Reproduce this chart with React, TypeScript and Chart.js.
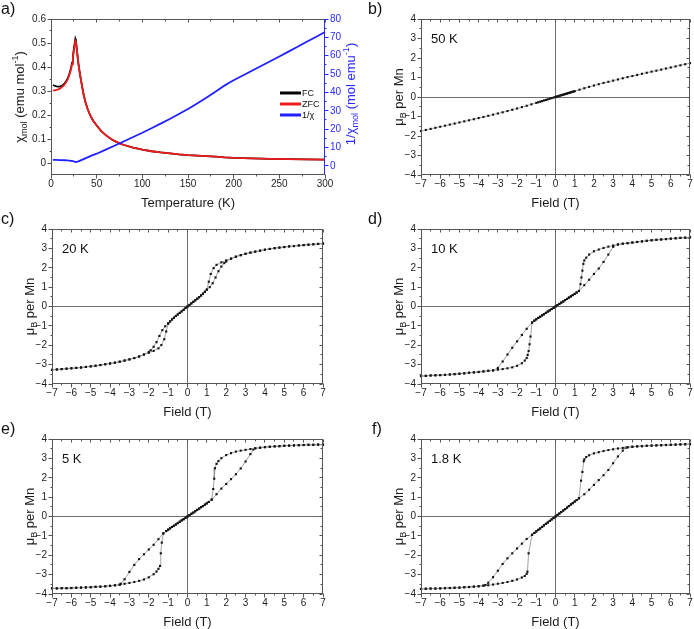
import React, { useEffect, useRef } from 'react';
import { Chart, registerables } from 'chart.js';

Chart.register(...registerables);

type Pt = [number, number];
type Seg = { t: string; s?: 'sub' | 'sup' };

const FONT = '"Liberation Sans", Arial, Helvetica, sans-serif';

// ---------- axis ticks and ranges ----------
const TEMP_TICKS = [0, 50, 100, 150, 200, 250, 300];
const CHI_TICKS = [0, 0.1, 0.2, 0.3, 0.4, 0.5, 0.6];
const INV_CHI_TICKS = [0, 10, 20, 30, 40, 50, 60, 70, 80];
const FIELD_TICKS = [-7, -6, -5, -4, -3, -2, -1, 0, 1, 2, 3, 4, 5, 6, 7];
const MOMENT_TICKS = [-4, -3, -2, -1, 0, 1, 2, 3, 4];

const TEMP_RANGE: Pt = [0, 300];
const CHI_RANGE: Pt = [-0.05, 0.6];
const INV_CHI_RANGE: Pt = [-5, 80];
const FIELD_RANGE: Pt = [-7, 7];
const MOMENT_RANGE: Pt = [-4, 4];

// ---------- a) susceptibility vs temperature (T in K, chi in emu/mol) ----------
const CHI_FC: Pt[] = [
  [2, 0.325], [4, 0.322], [6, 0.319], [8, 0.318], [10, 0.319], [12, 0.322], [14, 0.328],
  [16, 0.337], [18, 0.35], [20, 0.37], [22, 0.397], [23, 0.418], [24, 0.445], [25, 0.474],
  [26, 0.5], [26.7, 0.517], [27.3, 0.51], [28, 0.485], [29, 0.448], [30, 0.415], [31, 0.388],
  [32, 0.364], [34, 0.32], [36, 0.28], [38, 0.25], [40, 0.226], [43, 0.198], [46, 0.177],
  [50, 0.156], [55, 0.133], [60, 0.116], [65, 0.102], [70, 0.091], [75, 0.082], [80, 0.075],
  [90, 0.064], [100, 0.056], [110, 0.049], [120, 0.044], [130, 0.04], [140, 0.036],
  [150, 0.033], [160, 0.031], [170, 0.029], [180, 0.0265], [190, 0.0235], [200, 0.0215],
  [220, 0.0193], [240, 0.0176], [260, 0.0161], [280, 0.0149], [300, 0.0138],
];

const CHI_ZFC: Pt[] = [
  [2, 0.303], [4, 0.303], [6, 0.305], [8, 0.307], [10, 0.311], [12, 0.316], [14, 0.323],
  [16, 0.333], [18, 0.346], [20, 0.365], [22, 0.392], [23, 0.412], [24, 0.438], [25, 0.467],
  [26, 0.493], [26.7, 0.508], [27.3, 0.503], [28, 0.482], [29, 0.447], [30, 0.414],
  [31, 0.387], [32, 0.363], [34, 0.319], [36, 0.28], [38, 0.25], [40, 0.226], [43, 0.198],
  [46, 0.177], [50, 0.156], [55, 0.133], [60, 0.116], [65, 0.102], [70, 0.091], [75, 0.082],
  [80, 0.075], [90, 0.064], [100, 0.056], [110, 0.049], [120, 0.044], [130, 0.04],
  [140, 0.036], [150, 0.033], [160, 0.031], [170, 0.029], [180, 0.0265], [190, 0.0235],
  [200, 0.0215], [220, 0.0193], [240, 0.0176], [260, 0.0161], [280, 0.0149], [300, 0.0138],
];

const INV_CHI: Pt[] = [
  [2, 3.2], [5, 3.2], [10, 3.15], [15, 3.05], [20, 2.85], [24, 2.5], [27, 2.05], [30, 2.45],
  [35, 3.5], [40, 4.6], [45, 5.7], [50, 6.6], [60, 8.8], [70, 11.1], [80, 13.4], [90, 15.7],
  [100, 18], [110, 20.5], [120, 23], [130, 25.5], [140, 28.2], [150, 31], [160, 34],
  [170, 37.1], [180, 40.3], [190, 43.7], [195, 45.3], [200, 46.6], [210, 49.2], [220, 51.8],
  [230, 54.4], [240, 57], [250, 59.6], [260, 62.2], [270, 64.9], [280, 67.6], [290, 70.2],
  [300, 72.9],
];

// ---------- b) 50 K magnetisation (field in T, moment in muB per Mn) ----------
const M_50K: Pt[] = [
  [7, 1.735], [6.75, 1.68], [6.5, 1.625], [6.25, 1.57], [6, 1.515], [5.75, 1.46], [5.5, 1.405],
  [5.25, 1.35], [5, 1.3], [4.75, 1.245], [4.5, 1.19], [4.25, 1.13], [4, 1.075], [3.75, 1.02],
  [3.5, 0.96], [3.25, 0.9], [3, 0.84], [2.75, 0.78], [2.5, 0.72], [2.25, 0.655], [2, 0.59],
  [1.75, 0.52], [1.5, 0.45], [1.25, 0.375], [1, 0.3], [0.9, 0.27], [0.8, 0.24], [0.7, 0.21],
  [0.6, 0.18], [0.5, 0.15], [0.4, 0.12], [0.3, 0.09], [0.2, 0.06], [0.1, 0.03], [0, 0],
  [-0.1, -0.03], [-0.2, -0.06], [-0.3, -0.09], [-0.4, -0.12], [-0.5, -0.15], [-0.6, -0.18],
  [-0.7, -0.21], [-0.8, -0.24], [-0.9, -0.27], [-1, -0.3], [-1.25, -0.375], [-1.5, -0.45],
  [-1.75, -0.52], [-2, -0.59], [-2.25, -0.655], [-2.5, -0.72], [-2.75, -0.785], [-3, -0.845],
  [-3.25, -0.905], [-3.5, -0.965], [-3.75, -1.025], [-4, -1.08], [-4.25, -1.14], [-4.5, -1.195],
  [-4.75, -1.25], [-5, -1.305], [-5.25, -1.36], [-5.5, -1.415], [-5.75, -1.47], [-6, -1.525],
  [-6.25, -1.58], [-6.5, -1.635], [-6.75, -1.69], [-7, -1.75],
];
const M_50K_VIRGIN: Pt[] = [
  [0, 0], [0.05, 0.015], [0.15, 0.045], [0.25, 0.075], [0.35, 0.105], [0.45, 0.135],
  [0.55, 0.165], [0.65, 0.195], [0.75, 0.225], [0.85, 0.255], [0.95, 0.285],
];

// ---------- c) 20 K loop ----------
const M20_P_SAT: Pt[] = [
  [7, 3.25], [6.75, 3.23], [6.5, 3.21], [6.25, 3.19], [6, 3.17], [5.75, 3.15], [5.5, 3.12],
  [5.25, 3.1], [5, 3.07], [4.75, 3.04], [4.5, 3.01], [4.25, 2.97], [4, 2.93], [3.75, 2.88],
  [3.5, 2.83], [3.25, 2.78], [3, 2.72], [2.75, 2.65], [2.5, 2.57], [2.25, 2.47],
];
const M20_P_STEEP: Pt[] = [[2, 2.38], [1.75, 2.28], [1.5, 2.15], [1.35, 1.98], [1.2, 1.68], [1.1, 1.28], [1, 0.88]];
const M20_P_RAMP: Pt[] = [[1, 0.86], [1.15, 1.0], [1.3, 1.2], [1.45, 1.5], [1.6, 1.82], [1.75, 2.06], [1.9, 2.24], [2, 2.32]];
const M20_CORE: Pt[] = [
  [-0.9, -0.77], [-0.8, -0.67], [-0.7, -0.58], [-0.6, -0.49], [-0.5, -0.41], [-0.4, -0.33],
  [-0.3, -0.25], [-0.2, -0.17], [-0.1, -0.08], [0, 0], [0.1, 0.08], [0.2, 0.16], [0.3, 0.24],
  [0.4, 0.32], [0.5, 0.4], [0.6, 0.48], [0.7, 0.57], [0.8, 0.66], [0.9, 0.76],
];
const M20_N_RAMP: Pt[] = [[-1, -0.86], [-1.15, -1.02], [-1.3, -1.22], [-1.45, -1.52], [-1.6, -1.84], [-1.75, -2.08], [-1.9, -2.26], [-2, -2.34]];
const M20_N_STEEP: Pt[] = [[-2, -2.39], [-1.75, -2.29], [-1.5, -2.16], [-1.35, -1.99], [-1.2, -1.69], [-1.1, -1.29], [-1, -0.89]];
const M20_N_SAT: Pt[] = [
  [-2.25, -2.48], [-2.5, -2.58], [-2.75, -2.66], [-3, -2.73], [-3.25, -2.79], [-3.5, -2.85],
  [-3.75, -2.9], [-4, -2.94], [-4.25, -2.98], [-4.5, -3.02], [-4.75, -3.06], [-5, -3.09],
  [-5.25, -3.12], [-5.5, -3.15], [-5.75, -3.17], [-6, -3.19], [-6.25, -3.21], [-6.5, -3.23],
  [-6.75, -3.25], [-7, -3.27],
];

// ---------- d) 10 K loop ----------
const M10_P_SAT: Pt[] = [
  [7, 3.57], [6.75, 3.55], [6.5, 3.54], [6.25, 3.52], [6, 3.5], [5.75, 3.48], [5.5, 3.46],
  [5.25, 3.44], [5, 3.42], [4.75, 3.39], [4.5, 3.36], [4.25, 3.33], [4, 3.3], [3.75, 3.27],
  [3.5, 3.24], [3.25, 3.2],
];
const M10_P_STEEP: Pt[] = [
  [3, 3.15], [2.75, 3.09], [2.5, 3.02], [2.25, 2.94], [2, 2.85], [1.75, 2.68], [1.6, 2.52],
  [1.5, 2.38], [1.45, 2.2], [1.4, 1.85], [1.35, 1.5], [1.3, 1.15], [1.22, 0.8],
];
const M10_P_RAMP: Pt[] = [[1.22, 0.8], [1.5, 1.1], [1.75, 1.38], [2, 1.68], [2.25, 1.96], [2.5, 2.3], [2.75, 2.68], [3, 3.08]];
const M10_CORE: Pt[] = [
  [-1.1, -0.73], [-1, -0.66], [-0.9, -0.59], [-0.8, -0.53], [-0.7, -0.46], [-0.6, -0.4],
  [-0.5, -0.33], [-0.4, -0.26], [-0.3, -0.2], [-0.2, -0.13], [-0.1, -0.07], [0, 0], [0.1, 0.07],
  [0.2, 0.13], [0.3, 0.2], [0.4, 0.26], [0.5, 0.33], [0.6, 0.39], [0.7, 0.46], [0.8, 0.52],
  [0.9, 0.59], [1, 0.65], [1.1, 0.72],
];
const M10_N_RAMP: Pt[] = [[-1.22, -0.82], [-1.5, -1.15], [-1.75, -1.47], [-2, -1.8], [-2.25, -2.13], [-2.5, -2.48], [-2.75, -2.84], [-3, -3.17]];
const M10_N_STEEP: Pt[] = [
  [-3, -3.26], [-2.75, -3.23], [-2.5, -3.19], [-2.25, -3.14], [-2, -3.06], [-1.75, -2.93],
  [-1.6, -2.79], [-1.5, -2.66], [-1.45, -2.5], [-1.4, -2.3], [-1.35, -1.95], [-1.3, -1.55],
  [-1.22, -0.84],
];
const M10_N_SAT: Pt[] = [
  [-3.25, -3.3], [-3.5, -3.32], [-3.75, -3.35], [-4, -3.38], [-4.25, -3.4], [-4.5, -3.42],
  [-4.75, -3.45], [-5, -3.47], [-5.25, -3.49], [-5.5, -3.51], [-5.75, -3.53], [-6, -3.54],
  [-6.25, -3.55], [-6.5, -3.56], [-6.75, -3.58], [-7, -3.59],
];

// ---------- e) 5 K loop ----------
const M5_P_SAT: Pt[] = [
  [7, 3.71], [6.75, 3.71], [6.5, 3.7], [6.25, 3.7], [6, 3.69], [5.75, 3.68], [5.5, 3.67],
  [5.25, 3.66], [5, 3.65], [4.75, 3.63], [4.5, 3.62], [4.25, 3.6], [4, 3.58], [3.75, 3.55],
  [3.5, 3.52],
];
const M5_P_STEEP: Pt[] = [
  [3.25, 3.48], [3, 3.44], [2.75, 3.4], [2.5, 3.35], [2.25, 3.27], [2, 3.17], [1.75, 3.01],
  [1.6, 2.86], [1.5, 2.72], [1.42, 2.49], [1.38, 1.95], [1.33, 1.42], [1.25, 0.88],
];
const M5_P_RAMP: Pt[] = [
  [1.25, 0.86], [1.5, 1.15], [1.75, 1.44], [2, 1.68], [2.25, 1.93], [2.5, 2.18], [2.75, 2.48],
  [3, 2.84], [3.25, 3.22], [3.4, 3.46],
];
const M5_CORE: Pt[] = [
  [-1.1, -0.75], [-1, -0.68], [-0.9, -0.61], [-0.8, -0.54], [-0.7, -0.48], [-0.6, -0.41],
  [-0.5, -0.34], [-0.4, -0.27], [-0.3, -0.2], [-0.2, -0.14], [-0.1, -0.07], [0, 0], [0.1, 0.07],
  [0.2, 0.14], [0.3, 0.2], [0.4, 0.27], [0.5, 0.34], [0.6, 0.41], [0.7, 0.48], [0.8, 0.54],
  [0.9, 0.61], [1, 0.68], [1.1, 0.75],
];
const M5_N_RAMP: Pt[] = [
  [-1.25, -0.87], [-1.5, -1.17], [-1.75, -1.46], [-2, -1.7], [-2.25, -1.95], [-2.5, -2.2],
  [-2.75, -2.5], [-3, -2.86], [-3.25, -3.24], [-3.45, -3.47],
];
const M5_N_STEEP: Pt[] = [
  [-3.25, -3.47], [-3, -3.43], [-2.75, -3.38], [-2.5, -3.32], [-2.25, -3.25], [-2, -3.14],
  [-1.75, -2.98], [-1.6, -2.84], [-1.5, -2.7], [-1.42, -2.55], [-1.38, -1.9], [-1.33, -1.35],
  [-1.25, -0.88],
];
const M5_N_SAT: Pt[] = [
  [-3.5, -3.52], [-3.75, -3.55], [-4, -3.58], [-4.25, -3.6], [-4.5, -3.62], [-4.75, -3.63],
  [-5, -3.65], [-5.25, -3.66], [-5.5, -3.67], [-5.75, -3.68], [-6, -3.69], [-6.25, -3.7],
  [-6.5, -3.7], [-6.75, -3.71], [-7, -3.71],
];

// ---------- f) 1.8 K loop ----------
const M18_P_SAT: Pt[] = [
  [7, 3.73], [6.75, 3.73], [6.5, 3.72], [6.25, 3.71], [6, 3.7], [5.75, 3.69], [5.5, 3.68],
  [5.25, 3.67], [5, 3.66], [4.75, 3.65], [4.5, 3.63], [4.25, 3.62], [4, 3.6], [3.75, 3.57],
];
const M18_P_STEEP: Pt[] = [
  [3.5, 3.54], [3.25, 3.51], [3, 3.47], [2.75, 3.43], [2.5, 3.38], [2.25, 3.32], [2, 3.26],
  [1.75, 3.16], [1.6, 3.07], [1.5, 2.95], [1.47, 2.85], [1.4, 2.3], [1.33, 1.85], [1.22, 0.95],
];
const M18_P_RAMP: Pt[] = [
  [1.22, 0.93], [1.5, 1.15], [1.75, 1.38], [2, 1.63], [2.25, 1.88], [2.5, 2.13], [2.75, 2.4],
  [3, 2.75], [3.25, 3.1], [3.5, 3.4], [3.65, 3.55],
];
const M18_CORE: Pt[] = [
  [-1.1, -0.85], [-1, -0.77], [-0.9, -0.69], [-0.8, -0.62], [-0.7, -0.54], [-0.6, -0.46],
  [-0.5, -0.38], [-0.4, -0.31], [-0.3, -0.23], [-0.2, -0.15], [-0.1, -0.08], [0, 0], [0.1, 0.08],
  [0.2, 0.15], [0.3, 0.23], [0.4, 0.31], [0.5, 0.38], [0.6, 0.46], [0.7, 0.54], [0.8, 0.62],
  [0.9, 0.69], [1, 0.77], [1.1, 0.85],
];
const M18_N_RAMP: Pt[] = [
  [-1.22, -0.94], [-1.5, -1.16], [-1.75, -1.4], [-2, -1.65], [-2.25, -1.9], [-2.5, -2.16],
  [-2.75, -2.45], [-3, -2.8], [-3.25, -3.13], [-3.5, -3.42], [-3.65, -3.54],
];
const M18_N_STEEP: Pt[] = [
  [-3.5, -3.55], [-3.25, -3.51], [-3, -3.47], [-2.75, -3.43], [-2.5, -3.38], [-2.25, -3.32],
  [-2, -3.25], [-1.75, -3.15], [-1.6, -3.07], [-1.5, -2.96], [-1.46, -2.85], [-1.4, -1.9],
  [-1.22, -0.95],
];
const M18_N_SAT: Pt[] = [
  [-3.75, -3.57], [-4, -3.6], [-4.25, -3.62], [-4.5, -3.64], [-4.75, -3.65], [-5, -3.67],
  [-5.25, -3.68], [-5.5, -3.69], [-5.75, -3.7], [-6, -3.71], [-6.25, -3.72], [-6.5, -3.72],
  [-6.75, -3.73], [-7, -3.74],
];

// ---------- helpers ----------
const rev = (p: Pt[]) => [...p].reverse();
const sweepDown = (pSat: Pt[], pSteep: Pt[], core: Pt[], nRamp: Pt[], nSat: Pt[]) =>
  [...pSat, ...pSteep, ...rev(core), ...nRamp, ...nSat];
const sweepUp = (nSat: Pt[], nSteep: Pt[], core: Pt[], pRamp: Pt[], pSat: Pt[]) =>
  [...rev(nSat), ...nSteep, ...core, ...pRamp, ...rev(pSat)];

const fmtInt = (v: number) => (v < 0 ? '\u2212' + Math.abs(v) : String(v));
const fmtChi = (v: number) => (v === 0 ? '0' : v.toFixed(1));

const FRAME = '#555555';
const ZERO = '#6e6e6e';
const LABEL = '#1c1c1c';
const BLUE = '#2b2bff';

const snap = (v: number) => Math.floor(v) + 0.5;

function drawRich(ctx: CanvasRenderingContext2D, segs: Seg[], x: number, y: number, size: number, color: string, rotate: boolean) {
  ctx.save();
  ctx.translate(x, y);
  if (rotate) ctx.rotate(-Math.PI / 2);
  ctx.fillStyle = color;
  ctx.textAlign = 'left';
  ctx.textBaseline = 'alphabetic';
  let w = 0;
  for (const g of segs) {
    ctx.font = `${g.s ? size * 0.7 : size}px ${FONT}`;
    w += ctx.measureText(g.t).width;
  }
  let cx = -w / 2;
  const base = size * 0.36;
  for (const g of segs) {
    const fs = g.s ? size * 0.7 : size;
    ctx.font = `${fs}px ${FONT}`;
    const dy = g.s === 'sub' ? size * 0.28 : g.s === 'sup' ? -size * 0.4 : 0;
    ctx.fillText(g.t, cx, base + dy);
    cx += ctx.measureText(g.t).width;
  }
  ctx.restore();
}

interface Box { x: number; y: number; w: number; h: number; l: number; t: number; r: number; b: number }
interface AxisDraw { ticks: number[]; fmt: (v: number) => string; color?: string }
interface FrameSpec {
  box: Box;
  x: AxisDraw;
  y: AxisDraw;
  y2?: AxisDraw;
  zeroLines?: boolean;
  xTitle: Seg[];
  yTitle: Seg[];
  yTitleX: number;
  y2Title?: Seg[];
  y2TitleX?: number;
  tag: string;
  tagPos: Pt;
  note?: string;
  legend?: { label: string; color: string }[];
}

const mids = (ts: number[]) => ts.slice(1).map((v, i) => (v + ts[i]) / 2);

function makeFramePlugin(spec: FrameSpec) {
  const ox = spec.box.x;
  const oy = spec.box.y;
  return {
    id: 'panelFrame',
    beforeDatasetsDraw(chart: any) {
      if (!spec.zeroLines) return;
      const { ctx, chartArea: a, scales } = chart;
      const x0 = snap(scales.x.getPixelForValue(0));
      const y0 = snap(scales.y.getPixelForValue(0));
      ctx.save();
      ctx.strokeStyle = ZERO;
      ctx.lineWidth = 1;
      ctx.beginPath();
      ctx.moveTo(x0, a.top);
      ctx.lineTo(x0, a.bottom);
      ctx.moveTo(a.left, y0);
      ctx.lineTo(a.right, y0);
      ctx.stroke();
      ctx.restore();
    },
    afterDatasetsDraw(chart: any) {
      const { ctx, chartArea: a, scales } = chart;
      const sx = scales.x;
      const sy = scales.y;
      const sy2 = scales.y2;
      const L = Math.floor(a.left) + 0.5;
      const R = Math.ceil(a.right) - 0.5;
      const T = Math.floor(a.top) + 0.5;
      const B = Math.ceil(a.bottom) - 0.5;
      ctx.save();
      ctx.lineWidth = 1;
      const seg = (x1: number, y1: number, x2: number, y2: number, c: string) => {
        ctx.strokeStyle = c;
        ctx.beginPath();
        ctx.moveTo(x1, y1);
        ctx.lineTo(x2, y2);
        ctx.stroke();
      };
      const rightColor = spec.y2?.color ?? FRAME;
      seg(L - 0.5, T, R + 0.5, T, FRAME);
      seg(L - 0.5, B, R + 0.5, B, FRAME);
      seg(L, T, L, B, FRAME);
      seg(R, T, R, B, rightColor);

      for (const v of spec.x.ticks) {
        const p = snap(sx.getPixelForValue(v));
        seg(p, B, p, B + 4, FRAME);
        seg(p, T, p, T + 3, FRAME);
      }
      for (const v of mids(spec.x.ticks)) {
        const p = snap(sx.getPixelForValue(v));
        seg(p, B, p, B + 2, FRAME);
        seg(p, T, p, T + 2, FRAME);
      }
      for (const v of spec.y.ticks) {
        const p = snap(sy.getPixelForValue(v));
        seg(L, p, L - 4, p, FRAME);
        if (!spec.y2) seg(R, p, R - 3, p, FRAME);
      }
      for (const v of mids(spec.y.ticks)) {
        const p = snap(sy.getPixelForValue(v));
        seg(L, p, L - 2, p, FRAME);
        if (!spec.y2) seg(R, p, R - 2, p, FRAME);
      }
      if (spec.y2 && sy2) {
        for (const v of spec.y2.ticks) {
          const p = snap(sy2.getPixelForValue(v));
          seg(R, p, R + 4, p, rightColor);
        }
        for (const v of mids(spec.y2.ticks)) {
          const p = snap(sy2.getPixelForValue(v));
          seg(R, p, R + 2, p, rightColor);
        }
      }

      // tick labels
      ctx.font = `10px ${FONT}`;
      ctx.fillStyle = LABEL;
      ctx.textBaseline = 'middle';
      ctx.textAlign = 'center';
      for (const v of spec.x.ticks) ctx.fillText(spec.x.fmt(v), sx.getPixelForValue(v), a.bottom + 9);
      ctx.textAlign = 'right';
      for (const v of spec.y.ticks) ctx.fillText(spec.y.fmt(v), a.left - 5, sy.getPixelForValue(v));
      if (spec.y2 && sy2) {
        ctx.textAlign = 'left';
        ctx.fillStyle = rightColor;
        for (const v of spec.y2.ticks) ctx.fillText(spec.y2.fmt(v), a.right + 5, sy2.getPixelForValue(v));
      }

      // axis titles
      const midY = (a.top + a.bottom) / 2;
      drawRich(ctx, spec.xTitle, (a.left + a.right) / 2, a.bottom + 27, 13, LABEL, false);
      drawRich(ctx, spec.yTitle, spec.yTitleX - ox, midY, 13, LABEL, true);
      if (spec.y2Title && spec.y2TitleX !== undefined) {
        drawRich(ctx, spec.y2Title, spec.y2TitleX - ox, midY - 3, 13, rightColor, true);
      }

      // panel tag and temperature note
      ctx.fillStyle = '#111';
      ctx.textAlign = 'left';
      ctx.textBaseline = 'alphabetic';
      ctx.font = `16px ${FONT}`;
      ctx.fillText(spec.tag, spec.tagPos[0] - ox, spec.tagPos[1] - oy);
      if (spec.note) {
        ctx.font = `13px ${FONT}`;
        ctx.fillText(spec.note, a.left + 10, a.top + 24);
      }

      // legend
      if (spec.legend) {
        spec.legend.forEach((item, i) => {
          const ly = 93 + i * 11 - oy;
          ctx.strokeStyle = item.color;
          ctx.lineWidth = 3;
          ctx.beginPath();
          ctx.moveTo(280 - ox, ly);
          ctx.lineTo(301 - ox, ly);
          ctx.stroke();
          ctx.fillStyle = '#111';
          ctx.font = `9px ${FONT}`;
          ctx.textBaseline = 'middle';
          ctx.fillText(item.label, 302 - ox, ly + 0.5);
        });
      }
      ctx.restore();
    },
  };
}

const padding = (b: Box) => ({ left: b.l - b.x, top: b.t - b.y, right: b.x + b.w - b.r, bottom: b.y + b.h - b.b });
const xy = (p: Pt[]) => p.map(([x, y]) => ({ x, y }));

const CHI_TITLE: Seg[] = [{ t: '\u03c7' }, { t: 'mol', s: 'sub' }, { t: ' (emu mol' }, { t: '-1', s: 'sup' }, { t: ')' }];
const INV_TITLE: Seg[] = [{ t: '1/\u03c7' }, { t: 'mol', s: 'sub' }, { t: ' (mol emu' }, { t: '-1', s: 'sup' }, { t: ')' }];
const MOMENT_TITLE: Seg[] = [{ t: '\u03bc' }, { t: 'B', s: 'sub' }, { t: ' per Mn' }];
const FIELD_TITLE: Seg[] = [{ t: 'Field (T)' }];
const TEMP_TITLE: Seg[] = [{ t: 'Temperature (K)' }];

const BOX_A: Box = { x: 0, y: 0, w: 362, h: 212, l: 51, t: 19, r: 325, b: 175 };
const BOX_B: Box = { x: 362, y: 0, w: 332, h: 212, l: 421, t: 19, r: 692, b: 175 };
const BOX_C: Box = { x: 0, y: 212, w: 362, h: 210, l: 52, t: 229, r: 323, b: 384 };
const BOX_D: Box = { x: 362, y: 212, w: 332, h: 210, l: 421, t: 229, r: 692, b: 384 };
const BOX_E: Box = { x: 0, y: 422, w: 362, h: 207, l: 52, t: 439, r: 323, b: 594 };
const BOX_F: Box = { x: 362, y: 422, w: 332, h: 207, l: 421, t: 439, r: 692, b: 594 };

function curve(points: Pt[], color: string, axis: string) {
  return {
    data: xy(points),
    showLine: true,
    borderColor: color,
    borderWidth: 1.8,
    pointRadius: 0,
    tension: 0,
    yAxisID: axis,
    clip: 2,
  };
}

function loopDataset(points: Pt[]) {
  return {
    data: xy(points),
    showLine: true,
    borderColor: '#8c8c8c',
    borderWidth: 0.8,
    pointStyle: 'rect',
    pointRadius: 1.5,
    pointBackgroundColor: '#111111',
    pointBorderColor: '#111111',
    pointBorderWidth: 0,
    tension: 0,
    clip: 4,
  };
}

function susceptibilityConfig() {
  return {
    type: 'scatter',
    data: {
      datasets: [
        curve(INV_CHI, '#1f1fff', 'y2'),
        curve(CHI_ZFC, '#f01c1c', 'y'),
        curve(CHI_FC, '#000000', 'y'),
      ],
    },
    options: {
      animation: false,
      responsive: false,
      events: [],
      layout: { padding: padding(BOX_A) },
      plugins: { legend: { display: false }, tooltip: { enabled: false } },
      scales: {
        x: { type: 'linear', min: TEMP_RANGE[0], max: TEMP_RANGE[1], display: false },
        y: { type: 'linear', min: CHI_RANGE[0], max: CHI_RANGE[1], display: false },
        y2: { type: 'linear', position: 'right', min: INV_CHI_RANGE[0], max: INV_CHI_RANGE[1], display: false },
      },
    },
    plugins: [
      makeFramePlugin({
        box: BOX_A,
        x: { ticks: TEMP_TICKS, fmt: fmtInt },
        y: { ticks: CHI_TICKS, fmt: fmtChi },
        y2: { ticks: INV_CHI_TICKS, fmt: fmtInt, color: BLUE },
        xTitle: TEMP_TITLE,
        yTitle: CHI_TITLE,
        yTitleX: 19,
        y2Title: INV_TITLE,
        y2TitleX: 350,
        tag: 'a)',
        tagPos: [1, 14],
        legend: [
          { label: 'FC', color: '#000000' },
          { label: 'ZFC', color: '#f01c1c' },
          { label: '1/\u03c7', color: '#1f1fff' },
        ],
      }),
    ],
  };
}

function fieldConfig(box: Box, sweeps: Pt[][], note: string, tag: string, tagPos: Pt) {
  return () => ({
    type: 'scatter',
    data: { datasets: sweeps.map(loopDataset) },
    options: {
      animation: false,
      responsive: false,
      events: [],
      layout: { padding: padding(box) },
      plugins: { legend: { display: false }, tooltip: { enabled: false } },
      scales: {
        x: { type: 'linear', min: FIELD_RANGE[0], max: FIELD_RANGE[1], display: false },
        y: { type: 'linear', min: MOMENT_RANGE[0], max: MOMENT_RANGE[1], display: false },
      },
    },
    plugins: [
      makeFramePlugin({
        box,
        x: { ticks: FIELD_TICKS, fmt: fmtInt },
        y: { ticks: MOMENT_TICKS, fmt: fmtInt },
        zeroLines: true,
        xTitle: FIELD_TITLE,
        yTitle: MOMENT_TITLE,
        yTitleX: box.l - 23,
        tag,
        tagPos,
        note,
      }),
    ],
  });
}

const CONFIG_B = fieldConfig(BOX_B, [M_50K, M_50K_VIRGIN], '50 K', 'b)', [368, 14]);
const CONFIG_C = fieldConfig(
  BOX_C,
  [
    sweepDown(M20_P_SAT, M20_P_STEEP, M20_CORE, M20_N_RAMP, M20_N_SAT),
    sweepUp(M20_N_SAT, M20_N_STEEP, M20_CORE, M20_P_RAMP, M20_P_SAT),
  ],
  '20 K',
  'c)',
  [1, 224],
);
const CONFIG_D = fieldConfig(
  BOX_D,
  [
    sweepDown(M10_P_SAT, M10_P_STEEP, M10_CORE, M10_N_RAMP, M10_N_SAT),
    sweepUp(M10_N_SAT, M10_N_STEEP, M10_CORE, M10_P_RAMP, M10_P_SAT),
  ],
  '10 K',
  'd)',
  [368, 224],
);
const CONFIG_E = fieldConfig(
  BOX_E,
  [
    sweepDown(M5_P_SAT, M5_P_STEEP, M5_CORE, M5_N_RAMP, M5_N_SAT),
    sweepUp(M5_N_SAT, M5_N_STEEP, M5_CORE, M5_P_RAMP, M5_P_SAT),
  ],
  '5 K',
  'e)',
  [1, 434],
);
const CONFIG_F = fieldConfig(
  BOX_F,
  [
    sweepDown(M18_P_SAT, M18_P_STEEP, M18_CORE, M18_N_RAMP, M18_N_SAT),
    sweepUp(M18_N_SAT, M18_N_STEEP, M18_CORE, M18_P_RAMP, M18_P_SAT),
  ],
  '1.8 K',
  'f)',
  [372, 434],
);

function Panel({ box, config }: { box: Box; config: () => any }) {
  const ref = useRef<HTMLCanvasElement | null>(null);
  useEffect(() => {
    if (!ref.current) return;
    const chart = new Chart(ref.current, config());
    return () => chart.destroy();
  }, [config]);
  return (
    <canvas
      ref={ref}
      width={box.w}
      height={box.h}
      style={{ position: 'absolute', left: box.x, top: box.y, width: box.w, height: box.h, display: 'block' }}
    />
  );
}

export default function App() {
  return (
    <div style={{ position: 'absolute', left: 0, top: 0, width: 694, height: 629, background: '#ffffff', overflow: 'hidden' }}>
      <Panel box={BOX_A} config={susceptibilityConfig} />
      <Panel box={BOX_B} config={CONFIG_B} />
      <Panel box={BOX_C} config={CONFIG_C} />
      <Panel box={BOX_D} config={CONFIG_D} />
      <Panel box={BOX_E} config={CONFIG_E} />
      <Panel box={BOX_F} config={CONFIG_F} />
    </div>
  );
}
